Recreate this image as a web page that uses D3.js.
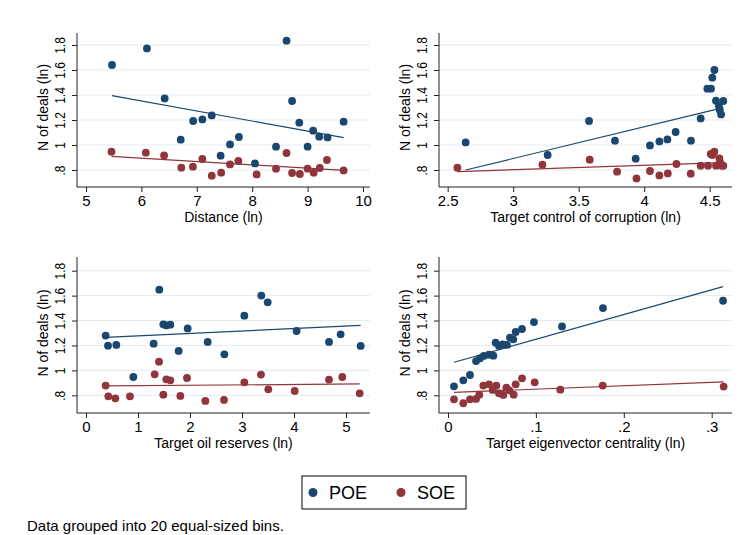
<!DOCTYPE html>
<html>
<head>
<meta charset="utf-8">
<script src="https://cdn.jsdelivr.net/npm/d3@7"></script>
<style>
  body { margin: 0; background: #fff; }
  svg text { font-family: "Liberation Sans", Arial, sans-serif; fill: #000; }
</style>
</head>
<body>
<div id="chart"></div>
<script>
// Binned scatter, 20 bins per group, POE vs SOE, four predictors

var yTicks = [0.8, 1, 1.2, 1.4, 1.6, 1.8];

// Distance (ln)
var distTicks = [5, 6, 7, 8, 9, 10];
var distPoeX = [5.47, 6.10, 6.42, 6.71, 6.935, 7.10, 7.27, 7.43, 7.60, 7.76, 8.05, 8.43, 8.62, 8.72, 8.85, 9.00, 9.10, 9.21, 9.36, 9.65];
var distPoeY = [1.64, 1.773, 1.373, 1.043, 1.192, 1.205, 1.237, 0.915, 1.005, 1.064, 0.853, 0.987, 1.835, 1.352, 1.179, 0.987, 1.115, 1.067, 1.061, 1.187];
var distSoeX = [5.46, 6.08, 6.41, 6.72, 6.93, 7.10, 7.27, 7.44, 7.60, 7.75, 8.08, 8.43, 8.62, 8.72, 8.86, 9.00, 9.11, 9.22, 9.35, 9.65];
var distSoeY = [0.947, 0.939, 0.917, 0.819, 0.827, 0.888, 0.755, 0.779, 0.845, 0.872, 0.765, 0.811, 0.936, 0.776, 0.768, 0.811, 0.779, 0.816, 0.88, 0.797];
var distPoeFit = [[5.47, 1.395], [9.65, 1.059]];
var distSoeFit = [[5.46, 0.909], [9.65, 0.797]];

// Target control of corruption (ln)
var corrTicks = [2.5, 3, 3.5, 4, 4.5];
var corrPoeX = [2.637, 3.263, 3.579, 3.777, 3.935, 4.044, 4.116, 4.177, 4.24, 4.357, 4.431, 4.482, 4.51, 4.52, 4.536, 4.548, 4.57, 4.577, 4.587, 4.604];
var corrPoeY = [1.021, 0.92, 1.192, 1.035, 0.891, 0.997, 1.029, 1.045, 1.104, 1.035, 1.213, 1.451, 1.451, 1.539, 1.60, 1.355, 1.312, 1.28, 1.245, 1.352];
var corrSoeX = [2.574, 3.223, 3.584, 3.793, 3.941, 4.044, 4.116, 4.18, 4.246, 4.355, 4.431, 4.487, 4.508, 4.52, 4.536, 4.548, 4.574, 4.58, 4.593, 4.604];
var corrSoeY = [0.819, 0.843, 0.883, 0.787, 0.733, 0.792, 0.757, 0.773, 0.848, 0.771, 0.835, 0.835, 0.928, 0.92, 0.947, 0.835, 0.893, 0.859, 0.835, 0.835];
var corrPoeFit = [[2.637, 0.80], [4.604, 1.299]];
var corrSoeFit = [[2.574, 0.787], [4.604, 0.859]];

// Target oil reserves (ln)
var oilTicks = [0, 1, 2, 3, 4, 5];
var oilPoeX = [0.378, 0.423, 0.583, 0.91, 1.301, 1.41, 1.487, 1.545, 1.622, 1.782, 1.955, 2.34, 2.66, 3.045, 3.372, 3.494, 4.05, 4.673, 4.897, 5.282];
var oilPoeY = [1.279, 1.198, 1.204, 0.947, 1.214, 1.648, 1.37, 1.361, 1.367, 1.156, 1.337, 1.228, 1.129, 1.439, 1.60, 1.546, 1.316, 1.228, 1.289, 1.196];
var oilSoeX = [0.378, 0.429, 0.564, 0.846, 1.32, 1.404, 1.487, 1.545, 1.622, 1.814, 1.942, 2.295, 2.654, 3.045, 3.365, 3.506, 4.013, 4.673, 4.929, 5.263];
var oilSoeY = [0.878, 0.792, 0.776, 0.792, 0.968, 1.07, 0.805, 0.928, 0.92, 0.795, 0.939, 0.755, 0.763, 0.904, 0.966, 0.848, 0.835, 0.926, 0.947, 0.816];
var oilPoeFit = [[0.378, 1.265], [5.282, 1.361]];
var oilSoeFit = [[0.378, 0.875], [5.263, 0.891]];

// Target eigenvector centrality (ln)
var eigTicks = [0, 0.1, 0.2, 0.3];
var eigPoeX = [0.0068, 0.0174, 0.025, 0.0319, 0.0364, 0.0406, 0.0466, 0.0516, 0.0542, 0.058, 0.0622, 0.0671, 0.0705, 0.0743, 0.077, 0.0842, 0.0978, 0.1297, 0.1763, 0.3129];
var eigPoeY = [0.872, 0.92, 0.963, 1.075, 1.097, 1.116, 1.126, 1.118, 1.222, 1.196, 1.209, 1.204, 1.263, 1.249, 1.308, 1.332, 1.388, 1.353, 1.50, 1.559];
var eigSoeX = [0.0068, 0.0174, 0.025, 0.0319, 0.0356, 0.0402, 0.0466, 0.0508, 0.055, 0.058, 0.0629, 0.0664, 0.0698, 0.0747, 0.077, 0.0842, 0.0986, 0.1278, 0.176, 0.3136];
var eigSoeY = [0.768, 0.736, 0.768, 0.771, 0.805, 0.878, 0.888, 0.843, 0.878, 0.816, 0.803, 0.862, 0.84, 0.805, 0.888, 0.936, 0.904, 0.845, 0.878, 0.870];
var eigPoeFit = [[0.0068, 1.065], [0.3129, 1.672]];
var eigSoeFit = [[0.0068, 0.824], [0.3136, 0.907]];

var poeColor = "#1a476f", soeColor = "#90353b";

// Stata-like number format: .8 instead of 0.8
function stataFmt(v) {
    var s = d3.format("~g")(v);
    return s.replace(/^0\./, ".");
}

var svg = d3.select("#chart").append("svg")
    .attr("width", 743)
    .attr("height", 535);

svg.append("rect").attr("width", 743).attr("height", 535).attr("fill", "#fff");

// One panel. left/right/top/bottom are the plot region edges,
// xr / yr are the pixel positions of first and last tick.
function drawPanel(p) {
    var g = svg.append("g");
    var xScale = d3.scaleLinear()
        .domain([p.xTicks[0], p.xTicks[p.xTicks.length - 1]])
        .range(p.xr);
    var yScale = d3.scaleLinear()
        .domain([yTicks[0], yTicks[yTicks.length - 1]])
        .range(p.yr);

    // gridlines
    g.selectAll("line.grid").data(yTicks).enter().append("line")
        .attr("x1", p.left).attr("x2", p.right)
        .attr("y1", d => yScale(d)).attr("y2", d => yScale(d))
        .attr("stroke", "#e3ebef").attr("stroke-width", 1);

    // y axis
    var yAxis = d3.axisLeft(yScale).tickValues(yTicks).tickFormat(stataFmt).tickSize(5).tickPadding(4);
    var yg = g.append("g").attr("transform", `translate(${p.left},0)`).call(yAxis);
    yg.select(".domain").attr("d", `M0,${p.top}V${p.bottom}`).attr("stroke", "#222");
    yg.selectAll(".tick line").attr("stroke", "#222");
    // labels read along the axis, a bit narrower than normal text
    yg.selectAll(".tick text")
        .style("font-size", "15px")
        .attr("fill", "#000")
        .attr("text-anchor", "middle")
        .attr("x", 0).attr("dy", 0)
        .attr("transform", "translate(-12.5,0) rotate(-90) scale(0.8,1)");

    // x axis
    var xAxis = d3.axisBottom(xScale).tickValues(p.xTicks).tickFormat(stataFmt).tickSize(5).tickPadding(3);
    var xg = g.append("g").attr("transform", `translate(0,${p.bottom})`).call(xAxis);
    xg.select(".domain").attr("d", `M${p.left},0H${p.right}`).attr("stroke", "#222");
    xg.selectAll(".tick line").attr("stroke", "#222");
    xg.selectAll(".tick text").style("font-size", "15px").attr("fill", "#000");

    // axis titles
    g.append("text")
        .attr("x", (p.left + p.right) / 2)
        .attr("y", p.bottom + 35)
        .attr("text-anchor", "middle")
        .style("font-size", "14px")
        .text(p.xTitle);
    g.append("text")
        .attr("transform", `translate(${p.left - 29},${(yScale(0.8) + yScale(1.8)) / 2}) rotate(-90)`)
        .attr("text-anchor", "middle")
        .style("font-size", "14px")
        .text("N of deals (ln)");

    // fit lines
    var line = d3.line().x(d => xScale(d[0])).y(d => yScale(d[1]));
    g.append("path").datum(p.poeFit).attr("d", line)
        .attr("fill", "none").attr("stroke", poeColor).attr("stroke-width", 1.2);
    g.append("path").datum(p.soeFit).attr("d", line)
        .attr("fill", "none").attr("stroke", soeColor).attr("stroke-width", 1.2);

    // dots
    var poe = p.poeX.map((x, i) => [x, p.poeY[i]]);
    var soe = p.soeX.map((x, i) => [x, p.soeY[i]]);
    g.selectAll("circle.poe").data(poe).enter().append("circle")
        .attr("cx", d => xScale(d[0])).attr("cy", d => yScale(d[1]))
        .attr("r", 3.9).attr("fill", poeColor);
    g.selectAll("circle.soe").data(soe).enter().append("circle")
        .attr("cx", d => xScale(d[0])).attr("cy", d => yScale(d[1]))
        .attr("r", 3.9).attr("fill", soeColor);
}

drawPanel({
    left: 77, right: 370, top: 33, bottom: 187,
    xr: [86, 363], yr: [170, 45],
    xTicks: distTicks, xTitle: "Distance (ln)",
    poeX: distPoeX, poeY: distPoeY, soeX: distSoeX, soeY: distSoeY,
    poeFit: distPoeFit, soeFit: distSoeFit
});
drawPanel({
    left: 439, right: 732, top: 33, bottom: 187,
    xr: [447.7, 709.7], yr: [170, 45],
    xTicks: corrTicks, xTitle: "Target control of corruption (ln)",
    poeX: corrPoeX, poeY: corrPoeY, soeX: corrSoeX, soeY: corrSoeY,
    poeFit: corrPoeFit, soeFit: corrSoeFit
});
drawPanel({
    left: 77, right: 370, top: 257, bottom: 413,
    xr: [86, 346], yr: [395.3, 270.7],
    xTicks: oilTicks, xTitle: "Target oil reserves (ln)",
    poeX: oilPoeX, poeY: oilPoeY, soeX: oilSoeX, soeY: oilSoeY,
    poeFit: oilPoeFit, soeFit: oilSoeFit
});
drawPanel({
    left: 439, right: 732, top: 257, bottom: 413,
    xr: [448, 711.7], yr: [395.3, 270.7],
    xTicks: eigTicks, xTitle: "Target eigenvector centrality (ln)",
    poeX: eigPoeX, poeY: eigPoeY, soeX: eigSoeX, soeY: eigSoeY,
    poeFit: eigPoeFit, soeFit: eigSoeFit
});

// legend
var legend = svg.append("g");
legend.append("rect")
    .attr("x", 302).attr("y", 476).attr("width", 164).attr("height", 33)
    .attr("fill", "#fff").attr("stroke", "#000").attr("stroke-width", 1);
[["POE", poeColor, 313, 329], ["SOE", soeColor, 401, 417]].forEach(function (d) {
    legend.append("circle").attr("cx", d[2]).attr("cy", 492.5).attr("r", 4.5).attr("fill", d[1]);
    legend.append("text").attr("x", d[3]).attr("y", 499).style("font-size", "18px").text(d[0]);
});

// note
svg.append("text")
    .attr("x", 27).attr("y", 531)
    .style("font-size", "15px")
    .text("Data grouped into 20 equal-sized bins.");
</script>
</body>
</html>
